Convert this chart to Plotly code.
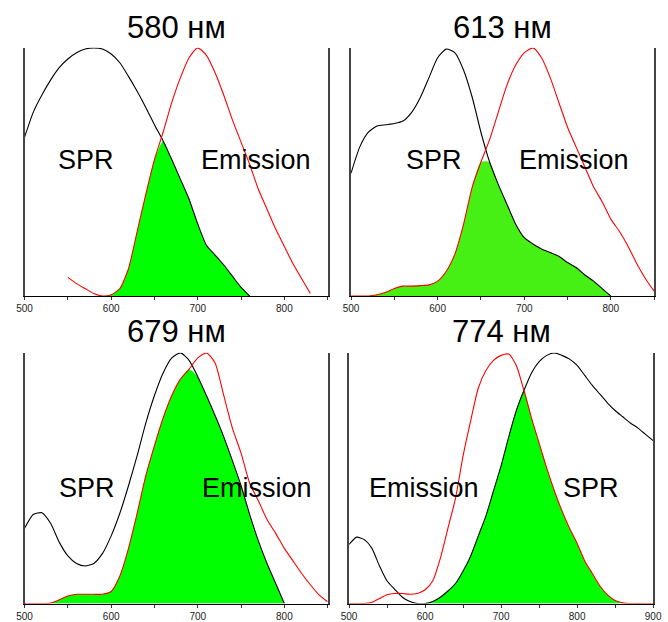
import numpy as np
import plotly.graph_objects as go

# Wavelength grids (nm)
wl_short = list(range(500, 860, 10))   # 500..850
wl_long = list(range(500, 910, 10))    # 500..900

panel_titles = ["580 нм", "613 нм", "679 нм", "774 нм"]

# --- 580 nm particles ---
spr_580 = [0.64, 0.74, 0.81, 0.87, 0.92, 0.955, 0.98, 0.995, 1.0, 0.995,
           0.975, 0.94, 0.885, 0.825, 0.76, 0.69, 0.625, 0.55, 0.47, 0.39,
           0.29, 0.205, 0.165, 0.125, 0.08, 0.035, 0.0,
           None, None, None, None, None, None, None, None, None]
em_580 = [None, None, None, None, None,
          0.075, 0.05, 0.03, 0.01, 0.0, 0.005, 0.03, 0.11, 0.26, 0.41,
          0.55, 0.66, 0.78, 0.88, 0.96, 1.0, 0.97, 0.90, 0.81, 0.71,
          0.62, 0.53, 0.43, 0.35, 0.27, 0.20, 0.13, 0.07, 0.01,
          None, None]

# --- 613 nm particles ---
spr_613 = [0.495, 0.60, 0.66, 0.685, 0.69, 0.695, 0.705, 0.74, 0.80, 0.88,
           0.96, 0.995, 0.98, 0.91, 0.80, 0.66, 0.54, 0.45, 0.37, 0.29,
           0.235, 0.21, 0.19, 0.175, 0.16, 0.135, 0.115, 0.085, 0.06, 0.03,
           0.0, None, None, None, None, None]
em_613 = [0.0, 0.0, 0.0, 0.005, 0.015, 0.03, 0.04, 0.04, 0.042, 0.045,
          0.06, 0.10, 0.17, 0.29, 0.44, 0.54, 0.63, 0.74, 0.85, 0.93,
          0.98, 1.0, 0.96, 0.88, 0.78, 0.68, 0.60, 0.52, 0.44, 0.38,
          0.31, 0.26, 0.20, 0.13, 0.07, 0.02]

# --- 679 nm particles ---
spr_679 = [0.30, 0.355, 0.362, 0.32, 0.245, 0.19, 0.16, 0.15, 0.16, 0.20,
           0.27, 0.36, 0.47, 0.59, 0.72, 0.83, 0.92, 0.98, 1.0, 0.97,
           0.905, 0.83, 0.75, 0.665, 0.57, 0.47, 0.355, 0.25, 0.16, 0.08,
           0.0, None, None, None, None, None]
em_679 = [0.0, 0.0, 0.0, 0.002, 0.015, 0.03, 0.037, 0.037, 0.037, 0.037,
          0.048, 0.11, 0.22, 0.36, 0.51, 0.63, 0.74, 0.83, 0.895, 0.935,
          0.98, 1.0, 0.96, 0.83, 0.70, 0.60, 0.48, 0.41, 0.335, 0.28,
          0.22, 0.17, 0.12, 0.075, 0.035, 0.007]

# --- 774 nm particles ---
spr_774 = [0.236, 0.265, 0.255, 0.22, 0.15, 0.09, 0.057, 0.025, 0.008, 0.0,
           0.0, 0.008, 0.025, 0.05, 0.08, 0.13, 0.19, 0.27, 0.35, 0.45,
           0.55, 0.665, 0.77, 0.85, 0.92, 0.965, 0.99, 1.0, 0.99, 0.975,
           0.95, 0.91, 0.87, 0.835, 0.80, 0.77, 0.745, 0.72, 0.70, 0.675,
           0.65]
em_774 = [0.0, 0.0, 0.0, 0.005, 0.02, 0.035, 0.04, 0.04, 0.037, 0.04,
          0.055, 0.09, 0.18, 0.30, 0.42, 0.59, 0.73, 0.86, 0.93, 0.97,
          0.99, 0.995, 0.95, 0.85, 0.74, 0.64, 0.54, 0.45, 0.37, 0.30,
          0.24, 0.17, 0.12, 0.07, 0.035, 0.012, 0.003, 0.0, 0.0, 0.0,
          0.0]

FONT = "Arial, Liberation Sans, sans-serif"
GREENS = ["#00ff00", "#47f014", "#00ff00", "#00ff00"]

panels = [
    dict(wl=wl_short, spr=spr_580, em=em_580, xr=[500, 850],
         labels=[("SPR", 571, 0.55), ("Emission", 767, 0.55)]),
    dict(wl=wl_short, spr=spr_613, em=em_613, xr=[500, 850],
         labels=[("SPR", 596, 0.55), ("Emission", 757, 0.55)]),
    dict(wl=wl_short, spr=spr_679, em=em_679, xr=[500, 850],
         labels=[("SPR", 572, 0.46), ("Emission", 768, 0.46)]),
    dict(wl=wl_long, spr=spr_774, em=em_774, xr=[500, 900],
         labels=[("Emission", 599, 0.46), ("SPR", 818, 0.46)]),
]

W, H = 668, 622
# plot-area boxes in pixels: left, right, top, bottom
boxes = [(17, 328, 48, 297), (352, 663, 48, 297),
         (17, 328, 354, 605.5), (350, 662, 354, 605.5)]
title_y = [28, 28, 333, 333]


def overlap(spr, em):
    """Shared area of both spectra: the contiguous band around the
    largest common value, bounded where either spectrum drops to zero."""
    s = np.array([np.nan if v is None else v for v in spr], dtype=float)
    e = np.array([np.nan if v is None else v for v in em], dtype=float)
    ov = np.fmin(s, e)
    ov[np.isnan(s) | np.isnan(e)] = np.nan
    top = int(np.nanargmax(ov))
    lo = top
    while lo > 0 and ov[lo - 1] > 0:
        lo -= 1
    if lo > 0:
        lo -= 1
    hi = top
    while hi < len(ov) - 1 and ov[hi + 1] > 0:
        hi += 1
    if hi < len(ov) - 1 and not np.isnan(ov[hi + 1]):
        hi += 1
    out = np.full_like(ov, np.nan)
    out[lo:hi + 1] = ov[lo:hi + 1]
    return out


fig = go.Figure()
annotations = []
layout_axes = {}

for i, p in enumerate(panels):
    k = "" if i == 0 else str(i + 1)
    xa, ya = "x" + k, "y" + k
    ov = overlap(p["spr"], p["em"])
    mask = ~np.isnan(ov)
    wl_arr = np.array(p["wl"])
    fig.add_trace(go.Scatter(
        x=wl_arr[mask], y=ov[mask], mode="lines", fill="tozeroy",
        fillcolor=GREENS[i], line=dict(width=0, shape="spline", smoothing=0.6),
        xaxis=xa, yaxis=ya, hoverinfo="skip", showlegend=False))
    fig.add_trace(go.Scatter(
        x=p["wl"], y=p["spr"], mode="lines",
        line=dict(color="black", width=1.1, shape="spline", smoothing=0.6),
        xaxis=xa, yaxis=ya, showlegend=False, name="SPR"))
    fig.add_trace(go.Scatter(
        x=p["wl"], y=p["em"], mode="lines",
        line=dict(color="#ff0000", width=1.1, shape="spline", smoothing=0.6),
        xaxis=xa, yaxis=ya, showlegend=False, name="Emission"))

    l, r, t, b = boxes[i]
    layout_axes["xaxis" + k] = dict(
        domain=[l / W, r / W], range=p["xr"], anchor=ya,
        showline=True, linecolor="black", linewidth=1,
        ticks="outside", ticklen=3, tickcolor="#333", tickwidth=1,
        tick0=500, dtick=100,
        minor=dict(dtick=50, ticks="outside", ticklen=3, tickcolor="#333"),
        showgrid=False, zeroline=False,
        tickfont=dict(family=FONT, size=10, color="#222"),
        ticklabeloverflow="allow", fixedrange=True)
    layout_axes["yaxis" + k] = dict(
        domain=[1 - b / H, 1 - t / H], range=[0, 1.0], anchor=xa,
        showline=True, mirror=True, linecolor="#444", linewidth=1.5,
        showticklabels=False, ticks="", showgrid=False, zeroline=False,
        fixedrange=True)

    annotations.append(dict(
        text=panel_titles[i], xref="paper", yref="paper",
        x=(l + r) / 2 / W, y=1 - title_y[i] / H, xanchor="center",
        yanchor="middle", showarrow=False,
        font=dict(family=FONT, size=31, color="black")))
    for txt, lx, ly in p["labels"]:
        annotations.append(dict(
            text=txt, xref=xa, yref=ya, x=lx, y=ly, xanchor="center",
            yanchor="middle", showarrow=False,
            font=dict(family=FONT, size=27, color="black")))

fig.update_layout(
    width=W, height=H, margin=dict(l=0, r=0, t=0, b=0),
    paper_bgcolor="white", plot_bgcolor="white",
    annotations=annotations, **layout_axes)

fig.write_html("out.html")
